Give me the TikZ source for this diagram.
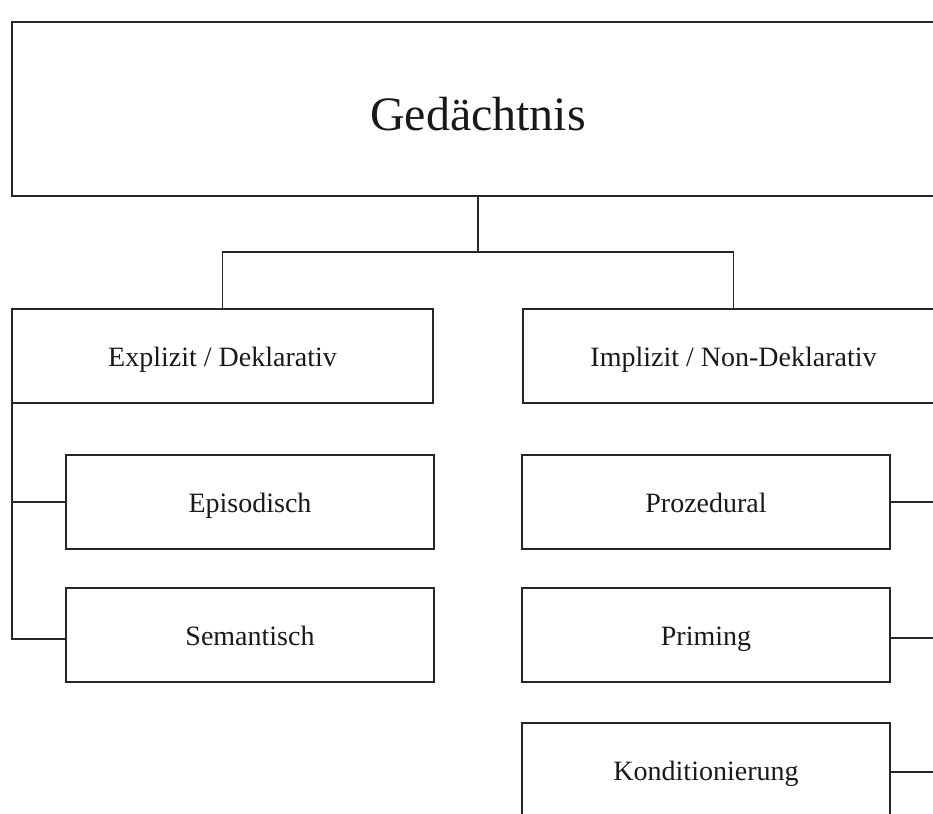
\documentclass[tikz,border=0pt]{standalone}
\usepackage{fontspec}
\setmainfont{Liberation Serif}
\begin{document}
\begin{tikzpicture}[x=1pt,y=-1pt,
  box/.style={draw=black!85, line width=1.5pt, rectangle, inner sep=0pt, outer sep=0pt,
              font=\fontsize{28}{30}\selectfont, text=black!90,
              text height=20pt, text depth=0pt},
  link/.style={draw=black!85, line width=1.5pt}]
\useasboundingbox (0,0) rectangle (933,813);
\clip (0,0) rectangle (933,813);

% root
\node[box, minimum width=932pt, minimum height=174pt, font=\fontsize{48}{52}\selectfont,
      text height=44pt] (root) at (478,109) {Gedächtnis};

% two main branches
\node[box, minimum width=421pt, minimum height=94pt] (expl) at (222.5,356) {Explizit / Deklarativ};
\node[box, minimum width=421pt, minimum height=94pt] (impl) at (733.5,356) {Implizit / Non-Deklarativ};

% explicit sub-types
\node[box, minimum width=368pt, minimum height=94pt] (epi) at (250,502) {Episodisch};
\node[box, minimum width=368pt, minimum height=94pt] (sem) at (250,635) {Semantisch};

% implicit sub-types
\node[box, minimum width=368pt, minimum height=94pt] (proz) at (706,502) {Prozedural};
\node[box, minimum width=368pt, minimum height=94pt] (prim) at (706,635) {Priming};
\node[box, minimum width=368pt, minimum height=94pt] (kond) at (706,770) {Konditionierung};

% root fork
\coordinate (fork) at (478,252);
\draw[link] (root.south) -- (fork);
\draw[link] (fork) -| (expl.north);
\draw[link] (fork) -| (impl.north);

% left rail
\draw[link] (expl.south west) |- (epi.west);
\draw[link] (expl.south west) |- ([yshift=-4pt]sem.west);

% right rail
\draw[link] (impl.south east) |- (proz.east);
\draw[link] (impl.south east) |- ([yshift=-3pt]prim.east);
\draw[link] (impl.south east) |- ([yshift=-2pt]kond.east);
\end{tikzpicture}
\end{document}
